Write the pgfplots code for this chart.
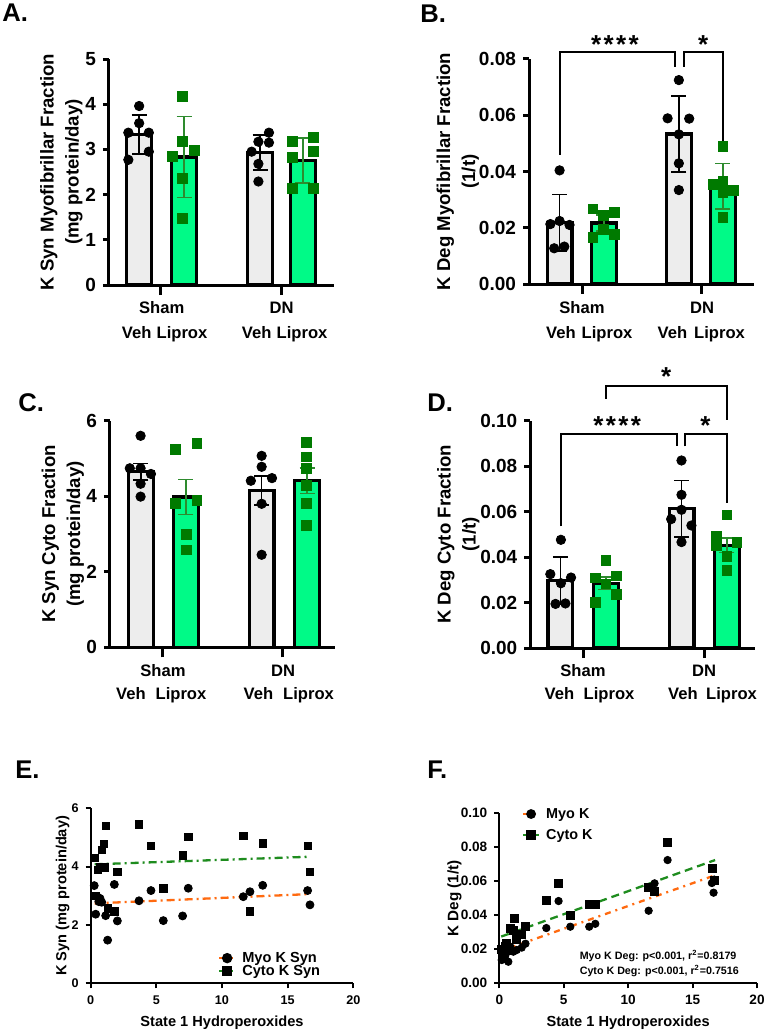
\documentclass[border=0pt]{standalone}
\usepackage{pgfplots}
\pgfplotsset{compat=1.18}
\usepackage{fontspec}
\setmainfont{Liberation Sans}
\definecolor{vehfill}{HTML}{EDEDED}
\definecolor{lipfill}{HTML}{00FA87}
\definecolor{sqgreen}{HTML}{007A00}
\definecolor{ebgreen}{HTML}{2E8B2E}
\definecolor{fitorange}{HTML}{FF6A10}
\definecolor{fitgreen}{HTML}{1E8C1E}
\pgfplotsset{
  barpanel/.style={
    scale only axis, anchor=south west,
    axis x line*=bottom, axis y line*=left,
    axis line style={line width=1.5pt},
    xmin=0, xmax=5, ymin=0,
    width=112.5pt,
    tick align=outside, major tick length=3pt,
    tick style={line width=1.5pt, black},
    xtick style={/pgfplots/major tick length=5pt},
    xticklabels={},
    tick label style={font=\fontsize{9.5}{11}\selectfont},
    /pgf/number format/assume math mode=true,
    ylabel style={font=\fontsize{9.3}{12.5}\selectfont, align=center, anchor=center},
    clip=false,
  },
  twodec/.style={scaled y ticks=false, /pgf/number format/fixed, /pgf/number format/fixed zerofill, /pgf/number format/precision=2},
  vehbar/.style={ybar, bar shift=0pt, bar width=12.4pt, fill=vehfill, draw=black, line width=1.6pt,
    error bars/.cd, y dir=both, y explicit,
    error bar style={line width=0.85pt, black},
    error mark options={rotate=90, mark size=3.75pt, line width=0.85pt, black}},
  lipbar/.style={ybar, bar shift=0pt, bar width=12.4pt, fill=lipfill, draw=black, line width=1.6pt,
    error bars/.cd, y dir=both, y explicit,
    error bar style={line width=0.85pt, ebgreen},
    error mark options={rotate=90, mark size=3.75pt, line width=0.85pt, ebgreen}},
  vehpts/.style={only marks, mark=*, mark size=2.35pt, black},
  lippts/.style={only marks, mark=square*, mark size=2.45pt, sqgreen},
  scatpanel/.style={
    scale only axis, anchor=south west,
    axis x line*=bottom, axis y line*=left,
    axis line style={line width=1pt},
    tick align=outside, major tick length=2.5pt,
    tick style={line width=1pt, black},
    xmin=0, xmax=20, xtick={0,5,...,20},
    /pgf/number format/assume math mode=true,
    label style={font=\fontsize{7.3}{8.5}\selectfont},
    legend image code/.code={\draw[mark repeat=2,mark phase=2,##1] plot coordinates {(0cm,0cm) (0.14cm,0cm) (0.28cm,0cm)};},
    clip=false,
  },
}
\newcommand{\stars}[1]{\fontsize{13}{13}\selectfont #1}
\begin{document}
\bfseries
\begin{tikzpicture}[x=0.5pt,y=-0.5pt]
\useasboundingbox (0,0) rectangle (764,1032);

% ---------------- A ----------------
\begin{axis}[barpanel, at={(54.5pt,-142.5pt)}, height=113pt, ymax=5, ytick={0,1,...,5},
  xtick={1.15,3.83},
  ylabel={K Syn Myofibrillar Fraction\\(mg protein/day)},
  ylabel style={at={(axis description cs:-0.212,0.5)}}]
\addplot[vehbar] coordinates {(0.67,3.33) +- (0,0.43) (3.36,2.93) +- (0,0.39)};
\addplot[lipbar] coordinates {(1.67,2.83) +- (0,0.895) (4.31,2.75) +- (0,0.50)};
\addplot[vehpts] coordinates {(0.67,3.96) (0.67,3.58) (0.43,3.37) (0.885,3.37) (0.885,2.95) (0.43,2.77)
  (3.555,3.37) (3.32,3.17) (3.555,3.15) (3.17,2.95) (3.32,2.68) (3.32,2.29)};
\addplot[lippts] coordinates {(1.63,4.17) (1.63,3.18) (1.89,2.97) (1.41,2.84) (1.63,2.35) (1.63,1.47)
  (4.535,3.26) (4.08,3.18) (4.535,2.95) (4.08,2.82) (4.08,2.13) (4.535,2.14)};
\end{axis}

% ---------------- B ----------------
\begin{axis}[barpanel, twodec, at={(264.5pt,-142pt)}, height=112.5pt, ymax=0.08, ytick={0,0.02,...,0.08},
  xtick={1.18,3.84},
  ylabel={K Deg Myofibrillar Fraction\\(1/t)},
  ylabel style={at={(axis description cs:-0.316,0.5)}}]
\addplot[vehbar] coordinates {(0.68,0.0218) +- (0,0.0100) (3.33,0.0533) +- (0,0.0136)};
\addplot[lipbar] coordinates {(1.66,0.0217) +- (0,0.0028) (4.31,0.0347) +- (0,0.0081)};
\addplot[vehpts] coordinates {(0.68,0.0404) (0.475,0.0213) (0.68,0.0224) (0.90,0.0210) (0.56,0.0127) (0.785,0.0133)
  (3.33,0.0725) (3.08,0.0589) (3.56,0.0588) (3.33,0.0532) (3.33,0.0429) (3.33,0.0334)};
\addplot[lippts] coordinates {(1.42,0.0267) (1.66,0.0245) (1.90,0.0254) (1.66,0.0194) (1.42,0.0166) (1.90,0.0177)
  (4.31,0.0488) (4.09,0.0354) (4.31,0.0364) (4.55,0.0334) (4.31,0.0326) (4.31,0.0237)};
\draw[line width=1pt] (axis cs:0.68,0.0459) |- (axis cs:3.24,0.0824) -- (axis cs:3.24,0.0773);
\draw[line width=1pt] (axis cs:3.44,0.0773) |- (axis cs:4.31,0.0824) -- (axis cs:4.31,0.0500);
\node[anchor=base] at (axis cs:1.91,0.0821) {\stars{*\kern1.2pt*\kern1.2pt*\kern1.2pt*}};
\node[anchor=base] at (axis cs:3.87,0.0821) {\stars{*}};
\end{axis}

% ---------------- C ----------------
\begin{axis}[barpanel, at={(55pt,-323.65pt)}, height=113.3pt, ymax=6, ytick={0,2,4,6},
  xtick={1.17,3.84},
  ylabel={K Syn Cyto Fraction\\(mg protein/day)},
  ylabel style={at={(axis description cs:-0.209,0.5)}}]
\addplot[vehbar] coordinates {(0.685,4.65) +- (0,0.22) (3.37,4.16) +- (0,0.385)};
\addplot[lipbar] coordinates {(1.685,3.98) +- (0,0.46) (4.38,4.41) +- (0,0.335)};
\addplot[vehpts] coordinates {(0.68,5.60) (0.44,4.74) (0.68,4.74) (0.91,4.59) (0.68,4.33) (0.68,3.99)
  (3.37,5.07) (3.37,4.78) (3.13,4.41) (3.60,4.48) (3.37,3.80) (3.37,2.45)};
\addplot[lippts] coordinates {(1.46,5.25) (1.93,5.39) (1.46,3.80) (1.93,3.88) (1.69,3.00) (1.69,2.58)
  (4.37,5.43) (4.37,5.04) (4.37,4.73) (4.37,4.29) (4.37,3.81) (4.37,3.22)};
\end{axis}

% ---------------- D ----------------
\begin{axis}[barpanel, twodec, at={(265.15pt,-324pt)}, height=113.65pt, ymax=0.10, ytick={0,0.02,...,0.10},
  xtick={1.18,3.86},
  ylabel={K Deg Cyto Fraction\\(1/t)},
  ylabel style={at={(axis description cs:-0.32,0.5)}}]
\addplot[vehbar] coordinates {(0.67,0.0296) +- (0,0.0104) (3.36,0.0612) +- (0,0.0125)};
\addplot[lipbar] coordinates {(1.68,0.0285) +- (0,0.0028) (4.37,0.0452) +- (0,0.0032)};
\addplot[vehpts] coordinates {(0.68,0.0476) (0.445,0.0325) (0.905,0.0310) (0.68,0.0285) (0.56,0.0194) (0.78,0.0196)
  (3.36,0.0825) (3.36,0.0674) (3.36,0.0608) (3.13,0.0567) (3.58,0.0539) (3.36,0.0466)};
\addplot[lippts] coordinates {(1.68,0.0385) (1.445,0.0308) (1.91,0.0317) (1.68,0.0282) (1.91,0.0236) (1.445,0.0201)
  (4.37,0.0586) (4.13,0.0490) (4.59,0.0466) (4.13,0.0450) (4.37,0.0402) (4.37,0.0340)};
\draw[line width=1pt] (axis cs:0.68,0.0535) |- (axis cs:3.26,0.0943) -- (axis cs:3.26,0.0887);
\draw[line width=1pt] (axis cs:3.44,0.0887) |- (axis cs:4.37,0.0943) -- (axis cs:4.37,0.0640);
\draw[line width=1pt] (axis cs:1.68,0.1097) |- (axis cs:4.37,0.1154) -- (axis cs:4.37,0.1004);
\node[anchor=base] at (axis cs:1.93,0.0941) {\stars{*\kern1.2pt*\kern1.2pt*\kern1.2pt*}};
\node[anchor=base] at (axis cs:3.89,0.0941) {\stars{*}};
\node[anchor=base] at (axis cs:3.02,0.1153) {\stars{*}};
\end{axis}

% ---------------- E ----------------
\begin{axis}[scatpanel, at={(45.35pt,-491.65pt)}, width=131.3pt, height=87.5pt,
  ymin=0, ymax=6, ytick={0,2,4,6},
  tick label style={font=\fontsize{6.3}{7.5}\selectfont},
  xlabel={State 1 Hydroperoxides}, ylabel={K Syn (mg protein/day)},
  xlabel style={at={(axis description cs:0.5,-0.225)}, anchor=center},
  ylabel style={at={(axis description cs:-0.107,0.5)}, anchor=center},
  legend style={at={(rel axis cs:0.485,0.181)}, anchor=north west, draw=none, fill=none,
    inner sep=0pt, outer sep=0pt, row sep=0pt, column sep=3pt,
    font=\fontsize{7.3}{8.5}\selectfont,
    nodes={inner sep=0pt, text height=5.3pt, text depth=1.2pt}},
  legend cell align=left]
\addplot[only marks, mark=*, mark size=2pt, black, forget plot] coordinates {
  (0.27,3.35) (0.38,2.37) (0.55,2.95) (0.62,2.80) (0.71,2.91) (0.84,2.78) (1.14,2.32) (1.29,1.48)
  (1.80,3.39) (2.03,2.14) (3.68,2.83) (4.59,3.18) (5.53,2.15) (7.00,2.31) (7.43,3.26)
  (11.62,2.97) (12.13,3.14) (13.10,3.36) (16.52,3.18) (16.70,2.69)};
\addplot[only marks, mark=square*, mark size=1.85pt, black, forget plot] coordinates {
  (0.27,4.31) (0.38,2.99) (0.53,3.89) (0.71,4.00) (0.84,4.57) (1.02,4.78) (1.04,3.98) (1.14,5.39)
  (1.29,2.57) (1.80,2.46) (2.03,3.81) (3.68,5.45) (4.59,4.72) (5.53,3.26) (7.00,4.38) (7.43,5.03)
  (11.62,5.06) (12.13,2.46) (13.10,4.80) (16.52,4.72) (16.70,3.81)};
\addplot[fitorange, line width=1.15pt, dash pattern=on 4pt off 2pt on 1pt off 2pt, forget plot] coordinates {(0.3,2.74) (16.7,3.06)};
\addplot[fitgreen, line width=1.15pt, dash pattern=on 4pt off 2pt on 1pt off 2pt, forget plot] coordinates {(0.3,4.08) (16.7,4.34)};
\addlegendimage{fitorange, line width=1.15pt, dash pattern=on 4pt off 2pt on 1pt off 2pt, mark=*, mark options={solid, black, mark size=2pt}}
\addlegendentry{Myo K Syn}
\addlegendimage{fitgreen, line width=1.15pt, dash pattern=on 4pt off 2pt on 1pt off 2pt, mark=square*, mark options={solid, black, mark size=1.85pt}}
\addlegendentry{Cyto K Syn}
\end{axis}

% ---------------- F ----------------
\begin{axis}[scatpanel, twodec, at={(249.65pt,-491.65pt)}, width=128.85pt, height=85pt,
  ymin=0, ymax=0.10, ytick={0,0.02,...,0.10},
  xticklabel style={/pgf/number format/precision=0, /pgf/number format/fixed zerofill=false},
  tick label style={font=\fontsize{6.8}{8}\selectfont},
  xlabel={State 1 Hydroperoxides}, ylabel={K Deg (1/t)},
  xlabel style={at={(axis description cs:0.5,-0.232)}, anchor=center},
  ylabel style={at={(axis description cs:-0.174,0.5)}, anchor=center, font=\fontsize{7.6}{9}\selectfont},
  legend style={at={(rel axis cs:0.088,1.034)}, anchor=north west, draw=none, fill=none,
    inner sep=0pt, outer sep=0pt, row sep=4pt, column sep=3pt,
    font=\fontsize{7.2}{8.5}\selectfont,
    nodes={inner sep=0pt, text height=5.3pt, text depth=1.2pt}},
  legend cell align=left]
\addplot[only marks, mark=*, mark size=1.85pt, black, forget plot] coordinates {
  (0.19,0.0137) (0.30,0.0165) (0.31,0.0196) (0.44,0.0157) (0.55,0.0180) (0.70,0.0127) (0.70,0.0215)
  (0.85,0.0216) (1.09,0.0186) (1.35,0.0196) (1.74,0.0210) (2.03,0.0233) (3.65,0.0325) (4.60,0.0484)
  (5.51,0.0333) (6.98,0.0333) (7.45,0.0350) (11.59,0.0427) (12.05,0.0588) (13.06,0.0725)
  (16.50,0.0590) (16.68,0.0610) (16.63,0.0533)};
\addplot[only marks, mark=square*, mark size=2pt, black, forget plot] coordinates {
  (0.15,0.0200) (0.31,0.0170) (0.45,0.0220) (0.57,0.0235) (0.65,0.0195) (0.85,0.0324) (1.06,0.0314)
  (1.16,0.0382) (1.35,0.0261) (1.74,0.0288) (2.05,0.0337) (3.65,0.0490) (4.60,0.0588) (5.51,0.0402)
  (6.98,0.0467) (7.45,0.0467) (11.59,0.0565) (12.05,0.0539) (13.06,0.0829) (16.50,0.0676) (16.68,0.0608)};
\addplot[fitorange, line width=1.15pt, dash pattern=on 3pt off 2.5pt on 1pt off 2.5pt, forget plot] coordinates {(0.3,0.0195) (16.8,0.0637)};
\addplot[fitgreen, line width=1.15pt, dash pattern=on 4pt off 2.5pt, forget plot] coordinates {(0.15,0.0275) (16.75,0.0725)};
\addlegendimage{fitorange, line width=1.15pt, dash pattern=on 3pt off 2.5pt on 1pt off 2.5pt, mark=*, mark options={solid, black, mark size=1.85pt}}
\addlegendentry{Myo K}
\addlegendimage{fitgreen, line width=1.15pt, dash pattern=on 4pt off 2.5pt, mark=square*, mark options={solid, black, mark size=2pt}}
\addlegendentry{Cyto K}
\node[anchor=base west, font=\fontsize{5.35}{6}\selectfont] at (axis cs:5.7,0.0140) {Myo K Deg: p<0.001, r\textsuperscript{2}=0.8179};
\node[anchor=base west, font=\fontsize{5.35}{6}\selectfont] at (axis cs:5.7,0.0050) {Cyto K Deg: p<0.001, r\textsuperscript{2}=0.7516};
\end{axis}

% ---------------- panel letters and group labels ----------------
\begin{scope}[every node/.style={font=\fontsize{12.8}{14}\selectfont, anchor=base west, inner sep=0pt}]
\node at (2,22) {A.};
\node at (420,23) {B.};
\node at (18,411.7) {C.};
\node at (427,411.7) {D.};
\node at (15,778.3) {E.};
\node at (427,778.3) {F.};
\end{scope}
\begin{scope}[every node/.style={font=\fontsize{8.3}{10}\selectfont, anchor=base, inner sep=0pt}]
\node at (161.7,313) {Sham}; \node at (281.7,313) {DN};
\node at (136.7,338.5) {Veh}; \node at (182,338.5) {Liprox}; \node at (256.7,338.5) {Veh}; \node at (302,338.5) {Liprox};
\node at (582,313) {Sham}; \node at (702,313) {DN};
\node at (561,338.5) {Veh}; \node at (607,338.5) {Liprox}; \node at (672.5,338.5) {Veh}; \node at (719.5,338.5) {Liprox};
\node at (163,676) {Sham}; \node at (283,676) {DN};
\node at (131,699.5) {Veh}; \node at (181,699.5) {Liprox}; \node at (258.5,699.5) {Veh}; \node at (308.5,699.5) {Liprox};
\node at (583,676) {Sham}; \node at (704,676) {DN};
\node at (559.5,699.5) {Veh}; \node at (609,699.5) {Liprox}; \node at (683,699.5) {Veh}; \node at (731.5,699.5) {Liprox};
\end{scope}
\end{tikzpicture}
\end{document}
